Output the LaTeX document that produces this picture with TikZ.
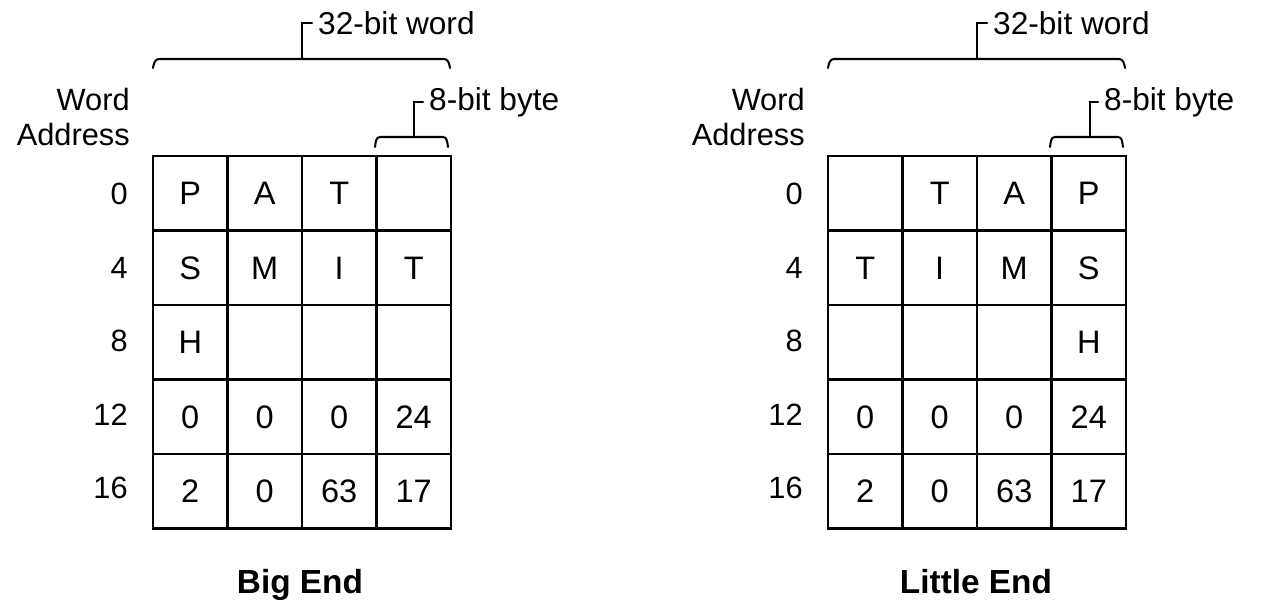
\documentclass[tikz,border=0pt]{standalone}
\usepackage{fontspec}
\setmainfont{Liberation Sans}
\usepackage{tikz}
\usetikzlibrary{positioning}
\tikzset{
  cell/.style={draw, line width=1.15pt, minimum width=1.49cm, minimum height=1.49cm, inner sep=0pt, text height=13.2pt, text depth=0pt, font=\fontsize{18.5}{20}\selectfont},
  addr/.style={anchor=east, inner sep=0pt, text height=12.5pt, text depth=0pt, font=\fontsize{17.5}{20}\selectfont},
  wordaddr/.style={anchor=east, inner sep=0pt, align=right, font=\fontsize{17.5}{20}\selectfont},
  bracelbl/.style={anchor=west, font=\fontsize{18}{20}\selectfont},
  brace/.style={line width=1.15pt, line cap=round},
  endtitle/.style={anchor=base, inner sep=0pt, font=\fontsize{19}{22}\selectfont\bfseries}
}

\begin{document}
\begin{tikzpicture}[x=0.02cm, y=-0.02cm]
\useasboundingbox (0,0) rectangle (1262,604);

% ===== BIG END =====
\node[wordaddr] (BEwa) at (130,117) {Word\\Address};
\foreach \r/\adr in {0/0, 1/4, 2/8, 3/12, 4/16}
  \node[addr] (BEaddr\r) at (128, {194+73.5*\r}) {\adr};
\foreach \r/\a/\b/\c/\d in {0/P/A/T/{}, 1/S/M/I/T, 2/H/{}/{}/{}, 3/0/0/0/24, 4/2/0/63/17} {
  \node[cell] (BE-\r-0) at (190.25, {193.25+74.5*\r}) {\a};
  \node[cell] (BE-\r-1) at (264.75, {193.25+74.5*\r}) {\b};
  \node[cell] (BE-\r-2) at (339.25, {193.25+74.5*\r}) {\c};
  \node[cell] (BE-\r-3) at (413.75, {193.25+74.5*\r}) {\d};
}

% ===== BIG END BRACES =====
\node[bracelbl] (BEword) at (312,23) {32-bit word};
\draw[brace] (153,68) to[out=80,in=180] (159,59) -- (444,59) to[out=0,in=100] (450,68);
\draw[brace] (302,59) |- (BEword.west);
\node[bracelbl] (BEbyte) at (423,102) {8-bit byte};
\draw[brace] (375,147) to[out=80,in=180] (380,137) -- (443,137) to[out=0,in=100] (448,147);
\draw[brace] (414,137) |- (BEbyte.west);

\node[endtitle] (BEtitle) at (300,594) {Big End};

% ===== LITTLE END =====
\node[wordaddr] (LEwa) at (805,117) {Word\\Address};
\foreach \r/\adr in {0/0, 1/4, 2/8, 3/12, 4/16}
  \node[addr] (LEaddr\r) at (803, {194+73.5*\r}) {\adr};
\foreach \r/\a/\b/\c/\d in {0/{}/T/A/P, 1/T/I/M/S, 2/{}/{}/{}/H, 3/0/0/0/24, 4/2/0/63/17} {
  \node[cell] (LE-\r-0) at (865.25, {193.25+74.5*\r}) {\a};
  \node[cell] (LE-\r-1) at (939.75, {193.25+74.5*\r}) {\b};
  \node[cell] (LE-\r-2) at (1014.25, {193.25+74.5*\r}) {\c};
  \node[cell] (LE-\r-3) at (1088.75, {193.25+74.5*\r}) {\d};
}

% ===== LITTLE END BRACES =====
\node[bracelbl] (LEword) at (987,23) {32-bit word};
\draw[brace] (828,68) to[out=80,in=180] (834,59) -- (1119,59) to[out=0,in=100] (1125,68);
\draw[brace] (977,59) |- (LEword.west);
\node[bracelbl] (LEbyte) at (1098,102) {8-bit byte};
\draw[brace] (1050,147) to[out=80,in=180] (1055,137) -- (1118,137) to[out=0,in=100] (1123,147);
\draw[brace] (1090,137) |- (LEbyte.west);

\node[endtitle] (LEtitle) at (976,594) {Little End};

\end{tikzpicture}
\end{document}
